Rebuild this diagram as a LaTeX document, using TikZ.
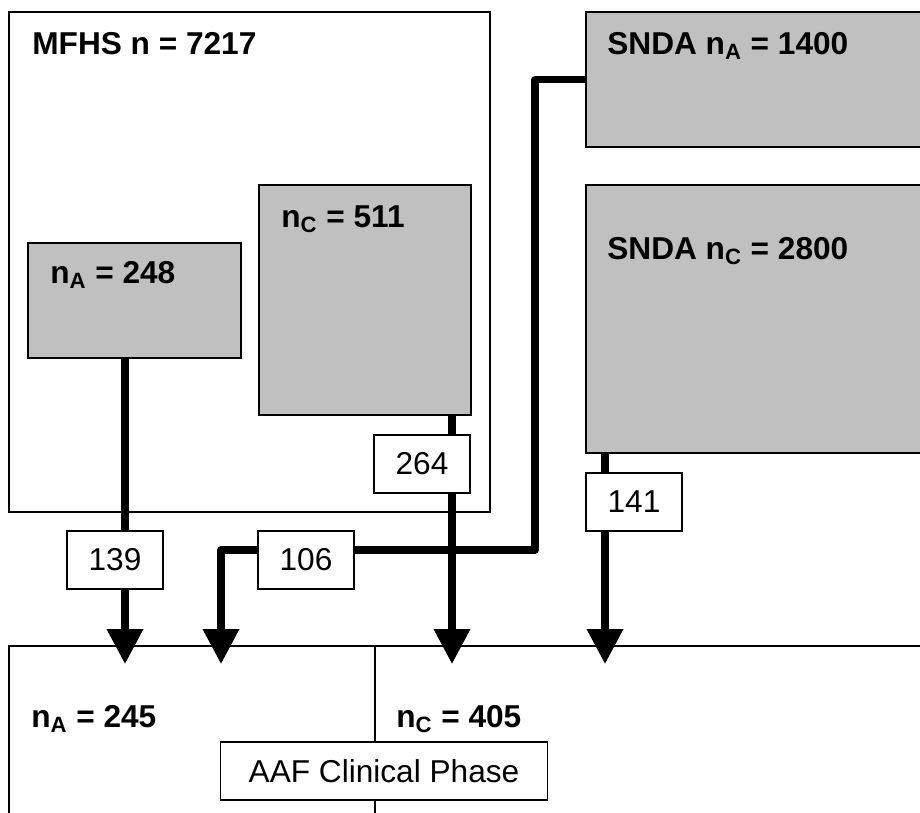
\documentclass[tikz,border=0pt]{standalone}
\usepackage{fontspec}
\setmainfont{Liberation Sans}
\usetikzlibrary{positioning}
\usetikzlibrary{arrows.meta}
\usetikzlibrary{fit}
\definecolor{boxgray}{HTML}{C0C0C0}

\begin{document}
\begin{tikzpicture}[x=0.02cm, y=-0.02cm,
		box/.style={draw, line width=0.7pt, inner sep=0pt},
		graybox/.style={box, fill=boxgray},
		title/.style={anchor=base west, inner sep=0pt, font=\fontsize{18}{21}\selectfont\bfseries},
		count/.style={draw, fill=white, line width=0.7pt, minimum width=1.92cm, minimum height=1.16cm, font=\fontsize{18}{21}\selectfont},
		flow/.style={line width=4pt, line join=round, -{Triangle[length=0.7cm, width=0.7cm]}}]
			\useasboundingbox (0,0) rectangle (920,813);
			\clip (0,0) rectangle (920,813);
			
			% source boxes
			\node[box, fit={(9,12) (490,512)}] (mfhs) {};
			\node[graybox, fit={(28,243) (241,358)}] (mfhsA) {};
			\node[graybox, fit={(259,185) (471,415)}] (mfhsC) {};
			\node[graybox, fit={(586,12) (935,147)}] (sndaA) {};
			\node[graybox, fit={(586,185) (935,453)}] (sndaC) {};
			
			% clinical phase box, split in two
			\node[box, fit={(9,646) (935,830)}] (aaf) {};
			\coordinate (split) at (375,646);
			\draw[line width=0.7pt] (split) -- (split |- aaf.south);
			
			% titles
			\node[title] (tMfhs) at (32,55) {MFHS n = 7217};
			\node[title] (tMfhsA) at (50,284) {n\textsubscript{A} = 248};
			\node[title] (tMfhsC) at (281,228) {n\textsubscript{C} = 511};
			\node[title] (tSndaA) at (607,55) {SNDA n\textsubscript{A} = 1400};
			\node[title] (tSndaC) at (607,260) {SNDA n\textsubscript{C} = 2800};
			\node[title] (tAafA) at (31,728) {n\textsubscript{A} = 245};
			\node[title] (tAafC) at (396,728) {n\textsubscript{C} = 405};
			
			% arrow tips on the top edge of the clinical phase
			\coordinate (tip1) at (125,664);
			\coordinate (tip2) at (221,664);
			\coordinate (tip3) at (452,664);
			\coordinate (tip4) at (605,664);
			\coordinate (bend) at (535,550);
			
			\draw[flow] (mfhsA.south -| tip1) -- (tip1);
			\draw[flow] (sndaA.west) -| (bend) -| (tip2);
			\draw[flow] (mfhsC.south -| tip3) -- (tip3);
			\draw[flow] (sndaC.south -| tip4) -- (tip4);
			
			% counts on the arrows
			\node[count] (c139) at (115,560) {139};
			\node[count] (c106) at (306,560) {106};
			\node[count] (c264) at (422,464) {264};
			\node[count] (c141) at (634,502) {141};
			
			\node[count, minimum width=6.54cm] (phase) at (384,771) {AAF Clinical Phase};
		\end{tikzpicture}
\end{document}
